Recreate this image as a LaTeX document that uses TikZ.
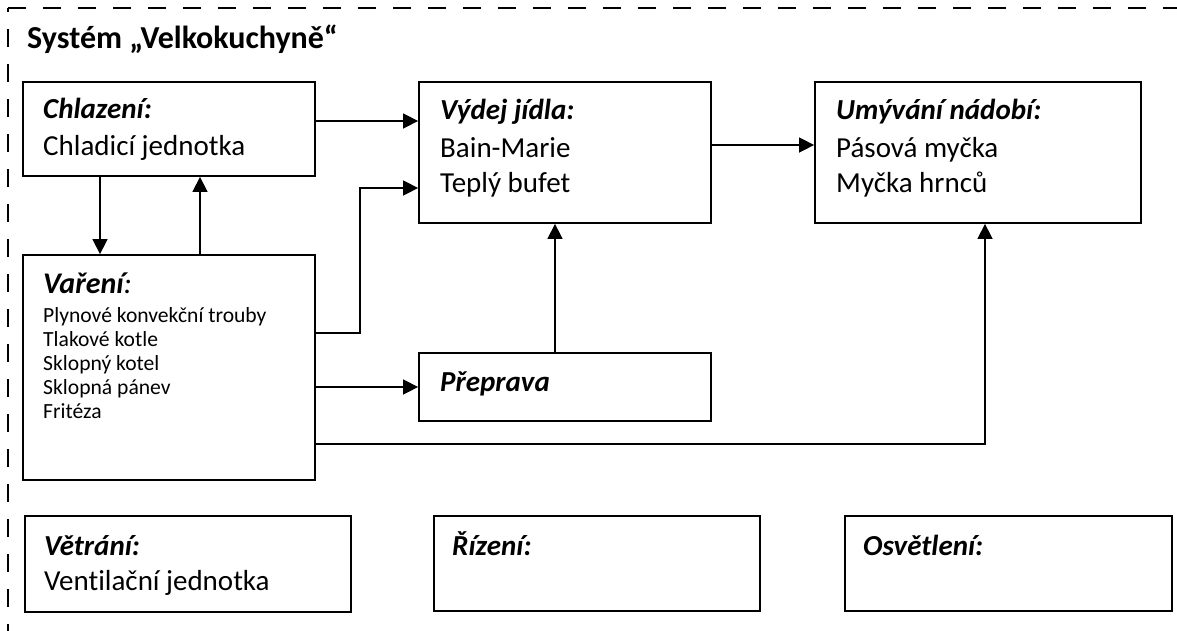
\documentclass[tikz,border=0pt]{standalone}
\usepackage{fontspec}
\setmainfont{Carlito}[Ligatures=NoCommon]
\usetikzlibrary{arrows.meta}
\begin{document}
\begin{tikzpicture}[x=1pt,y=-1pt,
  box/.style={draw, line width=1.8pt, rectangle, inner sep=0pt},
  txt/.style={anchor=base west, inner sep=0pt, font=\fontsize{29}{34}\selectfont},
  head/.style={anchor=base west, inner sep=0pt, font=\fontsize{29}{34}\selectfont\bfseries\itshape},
  small/.style={anchor=base west, inner sep=0pt, font=\fontsize{21.6}{26}\selectfont},
  arr/.style={line width=1.5pt, -{Triangle[length=15pt,width=15pt]}},
  frame/.style={line width=1.8pt, dash pattern=on 18pt off 17pt}
]
\useasboundingbox (0,0) rectangle (1177,630);
\clip (0,0) rectangle (1177,630);
% dashed system frame
\draw[frame, dash phase=14pt] (8,8) -- (8,640);
\draw[frame] (8,8) -- (1190,8);
\node[anchor=base west, inner sep=0pt, font=\fontsize{32}{38}\selectfont\bfseries] (title) at (27,48) {Systém „Velkokuchyně“};

% boxes
\node[box, minimum width=292pt, minimum height=94pt] (chl) at (169,129) {};
\node[box, minimum width=292pt, minimum height=225pt] (var) at (169,367.5) {};
\node[box, minimum width=292pt, minimum height=141pt] (vyd) at (565,152.5) {};
\node[box, minimum width=292pt, minimum height=68pt] (pre) at (565,387) {};
\node[box, minimum width=326pt, minimum height=141pt] (umy) at (978,152.5) {};
\node[box, minimum width=326pt, minimum height=96pt] (vet) at (188,564) {};
\node[box, minimum width=326pt, minimum height=95pt] (riz) at (597,563.5) {};
\node[box, minimum width=327pt, minimum height=95pt] (osv) at (1008.5,563.5) {};

% texts
\node[head] (chlH) at (43,118) {Chlazení:};
\node[txt] (chl1) at (43,155) {Chladicí jednotka};

\node[anchor=base west, inner sep=0pt, font=\fontsize{30}{36}\selectfont\itshape] (varH) at (43,293) {{\bfseries Vaření}:};
\node[small] (var1) at (43,322) {Plynové konvekční trouby};
\node[small] (var2) at (43,346) {Tlakové kotle};
\node[small] (var3) at (43,370) {Sklopný kotel};
\node[small] (var4) at (43,394) {Sklopná pánev};
\node[small] (var5) at (43,418) {Fritéza};

\node[head] (vydH) at (440,119) {Výdej jídla:};
\node[txt] (vyd1) at (440,157) {Bain-Marie};
\node[txt] (vyd2) at (440,192) {Teplý bufet};

\node[head] (preH) at (440,391) {Přeprava};

\node[head] (umyH) at (836,119) {Umývání nádobí:};
\node[txt] (umy1) at (836,157) {Pásová myčka};
\node[txt] (umy2) at (836,192) {Myčka hrnců};

\node[head] (vetH) at (44,555) {Větrání:};
\node[txt] (vet1) at (44,590) {Ventilační jednotka};
\node[head] (rizH) at (452,555) {Řízení:};
\node[head] (osvH) at (863,555) {Osvětlení:};

% connectors
\draw[arr] ([xshift=-69pt]chl.south) -- ([xshift=-69pt]var.north);
\draw[arr] ([xshift=31pt]var.north) -- ([xshift=31pt]chl.south);
\draw[arr] ([yshift=8pt]chl.east) -- ([yshift=8pt]chl.east -| vyd.west);
\draw[arr] ([yshift=34.5pt]var.east) -- ++(44,0) |- ([yshift=-35.5pt]vyd.west);
\draw[arr] (var.east |- pre.west) -- (pre.west);
\draw[arr] ([xshift=-10pt]pre.north) -- ([xshift=-10pt]vyd.south);
\draw[arr] ([yshift=7.5pt]vyd.east) -- ([yshift=7.5pt]vyd.east -| umy.west);
\draw[arr] ([yshift=-76.5pt]var.east) -| ([xshift=7pt]umy.south);
\end{tikzpicture}
\end{document}
